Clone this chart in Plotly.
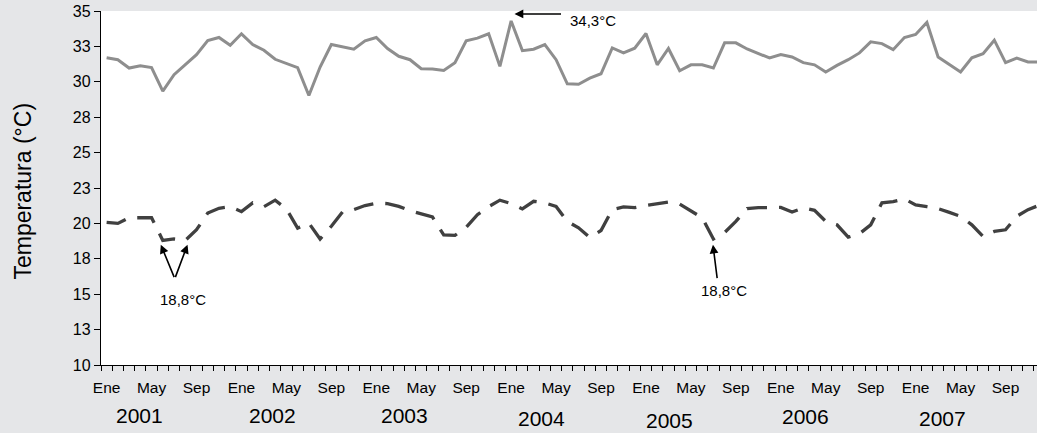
import plotly.graph_objects as go

# ---------------- data ----------------
years = ["2001", "2002", "2003", "2004", "2005", "2006", "2007"]
month_labels = ["Ene", "May", "Sep"]

tmax = [31.7, 31.56, 30.97, 31.14, 31.0, 29.34, 30.5, 31.2, 31.92, 32.91, 33.13, 32.58,
        33.39, 32.63, 32.23, 31.59, 31.3, 31.0, 29.03, 31.04, 32.63, 32.45, 32.3, 32.89,
        33.13, 32.35, 31.8, 31.56, 30.92, 30.9, 30.8, 31.35, 32.89, 33.08, 33.39, 31.09,
        34.3, 32.2, 32.3, 32.63, 31.56, 29.86, 29.83, 30.26, 30.57, 32.39, 32.04, 32.37,
        33.41, 31.2, 32.35, 30.78, 31.2, 31.2, 30.97, 32.75, 32.75, 32.32, 31.99, 31.68,
        31.92, 31.75, 31.35, 31.2, 30.69, 31.16, 31.56, 32.04, 32.82, 32.7, 32.27, 33.13,
        33.34, 34.19, 31.75, 31.2, 30.69, 31.7, 31.99, 32.94, 31.35, 31.68, 31.4, 31.4]

tmin = [20.07, 20.0, 20.4, 20.4, 20.4, 18.8, 18.9, 18.8, 19.55, 20.73, 21.07, 21.18,
        20.83, 21.45, 21.18, 21.64, 21.02, 19.67, 20.02, 18.9, 19.8, 20.81, 20.97, 21.26,
        21.42, 21.4, 21.2, 20.9, 20.69, 20.45, 19.19, 19.15, 19.72, 20.62, 21.18, 21.64,
        21.4, 21.02, 21.56, 21.45, 21.2, 20.14, 19.69, 19.0, 19.5, 20.97, 21.16, 21.11,
        21.26, 21.4, 21.5, 21.37, 20.85, 20.4, 18.9, 19.36, 20.14, 21.04, 21.11, 21.11,
        21.13, 20.8, 21.1, 20.92, 20.14, 19.9, 19.03, 19.27, 19.9, 21.45, 21.54, 21.73,
        21.3, 21.18, 21.04, 20.78, 20.5, 19.9, 19.08, 19.43, 19.55, 20.5, 20.97, 21.28]

y_tickvals = [10, 12.5, 15, 17.5, 20, 22.5, 25, 27.5, 30, 32.5, 35]
y_ticktext = ["10", "13", "15", "18", "20", "23", "25", "28", "30", "33", "35"]

# ---------------- layout helpers ----------------
x = list(range(len(tmax)))
xt_vals = list(range(0, len(tmax), 4))
xt_text = [month_labels[(v // 4) % 3] for v in xt_vals]

# year label placement (x in month index, y in paper)
year_x = [2.93, 14.72, 26.53, 38.69, 50.1, 62.16, 74.35]
year_y = [-0.142, -0.142, -0.144, -0.151, -0.157, -0.146, -0.151]

FONT = "Arial, Liberation Sans, sans-serif"
BG = "#e5e6e8"

fig = go.Figure()
fig.add_trace(go.Scatter(x=x, y=tmax, mode="lines",
                         line=dict(color="#8e8e8e", width=3), showlegend=False))
fig.add_trace(go.Scatter(x=x, y=tmin, mode="lines",
                         line=dict(color="#404040", width=3.3, dash="20px,12px"),
                         showlegend=False))

annotations = []
for yr, xx, yy in zip(years, year_x, year_y):
    annotations.append(dict(x=xx, y=yy, xref="x", yref="paper", text=yr, showarrow=False,
                            font=dict(size=21, color="black", family=FONT),
                            xanchor="center", yanchor="middle"))

# axis title
annotations.append(dict(x=-0.0833, y=0.49, xref="paper", yref="paper",
                        text="Temperatura (°C)", textangle=-90, showarrow=False,
                        font=dict(size=23, color="black", family=FONT),
                        xanchor="center", yanchor="middle"))

arrow_style = dict(showarrow=True, arrowhead=2, arrowsize=1.1, arrowwidth=1.6,
                   arrowcolor="black", text="", axref="pixel", ayref="pixel",
                   standoff=0, startstandoff=0)
# 34,3 arrow
annotations.append(dict(x=36.3, y=34.79, xref="x", yref="y", ax=48, ay=0, **arrow_style))
annotations.append(dict(x=41.05, y=34.36, xref="x", yref="y", text="34,3°C", showarrow=False,
                        xanchor="left", yanchor="middle",
                        font=dict(size=15, color="black", family=FONT)))
# 18,8 arrows (left)
annotations.append(dict(x=4.82, y=18.5, xref="x", yref="y", ax=14, ay=34, **arrow_style))
annotations.append(dict(x=7.2, y=18.5, xref="x", yref="y", ax=-12.7, ay=34, **arrow_style))
annotations.append(dict(x=6.8, y=14.65, xref="x", yref="y", text="18,8°C", showarrow=False,
                        xanchor="center", yanchor="middle",
                        font=dict(size=15, color="black", family=FONT)))
# 18,8 arrow (right)
annotations.append(dict(x=53.96, y=18.5, xref="x", yref="y", ax=4.4, ay=35, **arrow_style))
annotations.append(dict(x=54.9, y=15.24, xref="x", yref="y", text="18,8°C", showarrow=False,
                        xanchor="center", yanchor="middle",
                        font=dict(size=15, color="black", family=FONT)))

fig.update_layout(
    width=1037, height=433,
    margin=dict(l=101, r=0, t=11, b=68),
    paper_bgcolor=BG, plot_bgcolor="white",
    font=dict(family=FONT, color="black"),
    annotations=annotations,
    xaxis=dict(range=[-0.5, 82.8], showgrid=False, zeroline=False,
               showline=True, linecolor="black", linewidth=1.4,
               tickmode="array", tickvals=xt_vals, ticktext=xt_text, ticks="",
               ticklabelstandoff=8,
               tickfont=dict(size=15.5, family=FONT, color="black"),
               minor=dict(tickmode="array", tickvals=[v - 0.5 for v in range(len(tmax) + 1)],
                          ticks="outside", ticklen=5, tickwidth=1.2, tickcolor="black",
                          showgrid=False)),
    yaxis=dict(range=[10, 35], showgrid=False, zeroline=False,
               showline=True, linecolor="black", linewidth=1.4,
               tickmode="array", tickvals=y_tickvals, ticktext=y_ticktext,
               ticks="outside", ticklen=6, tickwidth=1.2, tickcolor="black",
               tickfont=dict(size=16, family=FONT, color="black")),
)

fig.write_html("out.html", config={"displayModeBar": False},
               post_script="document.body.style.margin='0';document.body.style.overflow='hidden';")
